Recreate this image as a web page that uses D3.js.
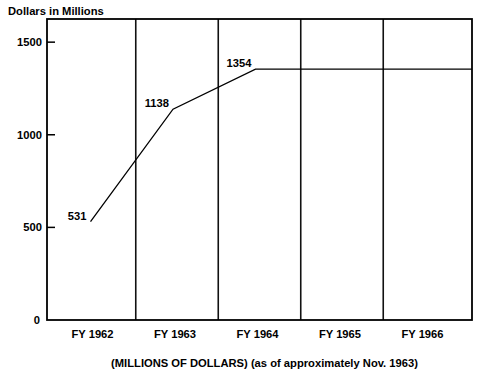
<!DOCTYPE html>
<html>
<head>
<meta charset="utf-8">
<script src="https://cdn.jsdelivr.net/npm/d3@7"></script>
<style>
  body { margin: 0; background: #fff; }
  text { font-family: "Liberation Sans", Arial, sans-serif; font-weight: bold; font-size: 11.2px; fill: #000; }
</style>
</head>
<body>
<div id="drawing"></div>
<script>
// Data
const years = ["FY 1962", "FY 1963", "FY 1964", "FY 1965", "FY 1966"];
const values = [531, 1138, 1354, 1354, 1354];
const labelled = [true, true, true, false, false];
const yTicks = [0, 500, 1000, 1500];

// SVG dimensions
const svgWidth = 482;
const svgHeight = 377;
const margin = {top: 19, right: 10, bottom: 57, left: 47};

const svg = d3.select("#drawing")
  .append("svg")
  .attr("width", svgWidth)
  .attr("height", svgHeight);

// outer bands are a little wider than the inner ones in the original
const x = d3.scaleBand()
  .domain(years)
  .range([margin.left, svgWidth - margin.right])
  .paddingInner(0)
  .paddingOuter(0.076);

const y = d3.scaleLinear()
  .domain([0, 1625])
  .range([svgHeight - margin.bottom, margin.top]);

const cx = d => x(d) + x.bandwidth() / 2;

// y title
svg.append("text")
  .attr("x", 8)
  .attr("y", 15)
  .text("Dollars in Millions");

// y ticks (inside) and labels
svg.selectAll(".ytick")
  .data(yTicks.filter(d => d > 0))
  .enter()
  .append("line")
  .attr("x1", margin.left)
  .attr("x2", margin.left + 8)
  .attr("y1", d => y(d))
  .attr("y2", d => y(d))
  .attr("stroke", "#000")
  .attr("stroke-width", 1.5);

svg.selectAll(".ylab")
  .data(yTicks)
  .enter()
  .append("text")
  .attr("x", d => d === 0 ? 40 : 42)
  .attr("y", d => y(d))
  .attr("dy", "0.35em")
  .attr("text-anchor", "end")
  .text(d => d);

// vertical separators between years
svg.selectAll(".sep")
  .data(years.slice(1))
  .enter()
  .append("line")
  .attr("x1", d => x(d))
  .attr("x2", d => x(d))
  .attr("y1", y.range()[1])
  .attr("y2", y.range()[0])
  .attr("stroke", "#111")
  .attr("stroke-width", 1.6);

// frame
svg.append("rect")
  .attr("x", margin.left)
  .attr("y", margin.top)
  .attr("width", svgWidth - margin.left - margin.right)
  .attr("height", svgHeight - margin.top - margin.bottom)
  .attr("fill", "none")
  .attr("stroke", "#000")
  .attr("stroke-width", 1.8);

// x labels
svg.selectAll(".xlab")
  .data(years)
  .enter()
  .append("text")
  .attr("x", d => cx(d) - 2)
  .attr("y", 338)
  .attr("text-anchor", "middle")
  .text(d => d);

// footnote
svg.append("text")
  .attr("x", (margin.left + svgWidth - margin.right) / 2 + 5)
  .attr("y", 367)
  .attr("text-anchor", "middle")
  .text("(MILLIONS OF DOLLARS) (as of approximately Nov. 1963)");

// line, carried flat to the right edge
const pts = years.map((d, i) => [cx(d) - 4, y(values[i])]);
pts.push([svgWidth - margin.right, y(values[values.length - 1])]);

svg.append("path")
  .attr("d", d3.line()(pts))
  .attr("fill", "none")
  .attr("stroke", "#000")
  .attr("stroke-width", 1.3);

// value labels
svg.selectAll(".vlab")
  .data(years.filter((d, i) => labelled[i]))
  .enter()
  .append("text")
  .attr("x", d => cx(d) - 8)
  .attr("y", (d, i) => y(values[i]) - 2)
  .attr("text-anchor", "end")
  .text((d, i) => values[i]);
</script>
</body>
</html>
